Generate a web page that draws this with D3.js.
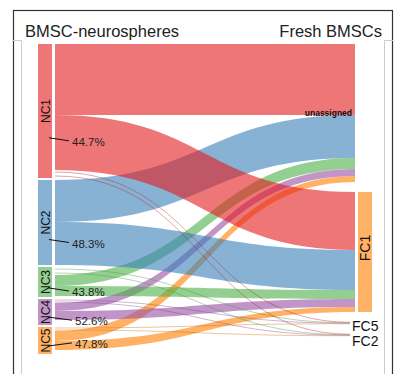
<!DOCTYPE html>
<html>
<head>
<meta charset="utf-8">
<script src="https://cdn.jsdelivr.net/npm/d3@7"></script>
<style>
  body { margin: 0; background: #fff; }
  text { font-family: "Liberation Sans", Arial, Helvetica, sans-serif; }
</style>
</head>
<body>
<script>
// nodes of the two clusterings
const leftNodes = ["NC1", "NC2", "NC3", "NC4", "NC5"];
const leftSize = [134, 85, 30, 26, 27];
const rightNodes = ["unassigned", "FC1", "FC5", "FC2"];
const pctLabels = ["44.7%", "48.3%", "43.8%", "52.6%", "47.8%"];

// links, listed in the order they stack at the source
const linkSource = ["NC1", "NC1", "NC1", "NC1",
                    "NC2", "NC2",
                    "NC3", "NC3", "NC3", "NC3",
                    "NC4", "NC4", "NC4", "NC4",
                    "NC5", "NC5", "NC5", "NC5"];
const linkTarget = ["unassigned", "FC1", "FC5", "FC2",
                    "unassigned", "FC1",
                    "FC5", "FC2", "unassigned", "FC1",
                    "FC5", "FC2", "unassigned", "FC1",
                    "FC5", "FC2", "unassigned", "FC1"];
// width at the source side and at the target side
const linkSrcW = [71, 55, 4, 4,  42, 43,  4, 4, 11, 10,  2, 2, 8, 9,  2, 2, 10, 9];
const linkTgtW = [71, 58, 0.5, 0.5,  43, 40,  0.5, 0.5, 11, 9,  0.5, 0.5, 7, 8,  0.5, 0.5, 6, 5];

const W = 397, H = 374;
const topY = 44, leftGap = 2, rightGap = 10;
const x0 = 55, x1 = 355;

const svg = d3.select("body").append("svg")
    .attr("width", W)
    .attr("height", H);

// frame
svg.append("rect")
    .attr("x", 13.5).attr("y", 10.5)
    .attr("width", 379).attr("height", 400)
    .attr("fill", "none").attr("stroke", "#333").attr("stroke-width", 1.2);
svg.append("path")
    .attr("d", "M13,40.5H21.5V374M393,40.5H384.5V374")
    .attr("fill", "none").attr("stroke", "#ccc");

// titles
svg.append("text").attr("x", 25).attr("y", 37)
    .attr("font-size", 16.5).attr("fill", "#222")
    .text("BMSC-neurospheres");
svg.append("text").attr("x", 382).attr("y", 37)
    .attr("text-anchor", "end")
    .attr("font-size", 16.5).attr("fill", "#222")
    .text("Fresh BMSCs");

const color = d3.scaleOrdinal()
    .domain(leftNodes)
    .range(d3.schemeSet1);
const rightColor = { "FC1": d3.schemeSet1[4] };

const h = d3.scaleLinear()
    .domain([0, d3.sum(leftSize)])
    .range([0, 302]);

// left node positions
const leftY = {};
let acc = topY;
leftNodes.forEach((n, i) => {
    leftY[n] = { y0: acc, y1: acc + h(leftSize[i]), size: leftSize[i] };
    acc += h(leftSize[i]) + leftGap;
});

const links = linkSource.map((s, i) => ({
    s: s, t: linkTarget[i], sw: linkSrcW[i], tw: linkTgtW[i], i: i
}));

// right node sizes and positions
const rightY = {};
acc = topY;
rightNodes.forEach(n => {
    const size = d3.sum(links.filter(l => l.t == n), l => l.tw);
    rightY[n] = { y0: acc, y1: acc + h(size) };
    acc += h(size) + rightGap;
});

// stack at source
const srcOff = {};
links.forEach(l => {
    const o = srcOff[l.s] || 0;
    l.y0 = leftY[l.s].y0 + o;
    l.y0b = l.y0 + h(l.sw);
    srcOff[l.s] = o + h(l.sw);
});
// stack at target, ordered by source
const tgtOff = {};
links.slice()
    .sort((a, b) => leftNodes.indexOf(a.s) - leftNodes.indexOf(b.s) || a.i - b.i)
    .forEach(l => {
        const o = tgtOff[l.t] || 0;
        l.y1 = rightY[l.t].y0 + o;
        l.y1b = l.y1 + h(l.tw);
        tgtOff[l.t] = o + h(l.tw);
    });

function band(l) {
    const xm = (x0 + x1) / 2;
    const p = d3.path();
    p.moveTo(x0, l.y0);
    p.bezierCurveTo(xm, l.y0, xm, l.y1, x1, l.y1);
    p.lineTo(x1, l.y1b);
    p.bezierCurveTo(xm, l.y1b, xm, l.y0b, x0, l.y0b);
    p.closePath();
    return p.toString();
}

const thick = links.filter(l => l.tw >= 1);
const thin = links.filter(l => l.tw < 1);

// links to unassigned first, then to FC1
svg.append("g")
    .selectAll("path")
    .data(thick.sort((a, b) => rightNodes.indexOf(a.t) - rightNodes.indexOf(b.t) || a.i - b.i))
    .join("path")
    .attr("d", band)
    .attr("fill", d => color(d.s))
    .attr("fill-opacity", 0.6);

const line = d3.linkHorizontal().x(d => d[0]).y(d => d[1]);
svg.append("g")
    .selectAll("path")
    .data(thin)
    .join("path")
    .attr("d", d => line({ source: [x0, (d.y0 + d.y0b) / 2], target: [350, (d.y1 + d.y1b) / 2] }))
    .attr("fill", "none")
    .attr("stroke", d => d3.color(color(d.s)).darker(0.6))
    .attr("stroke-opacity", 0.55)
    .attr("stroke-width", 0.7);

// left node bars
const left = svg.append("g")
    .selectAll("g")
    .data(leftNodes)
    .join("g");
left.append("rect")
    .attr("x", 38).attr("width", 14)
    .attr("y", d => leftY[d].y0)
    .attr("height", d => leftY[d].y1 - leftY[d].y0)
    .attr("fill", d => color(d))
    .attr("fill-opacity", 0.6);
left.append("text")
    .attr("transform", d => `translate(49.5,${(leftY[d].y0 + leftY[d].y1) / 2}) rotate(-90)`)
    .attr("text-anchor", "middle")
    .attr("font-size", 12).attr("fill", "#111")
    .text(d => d);

// percentage labels with leader lines
let lastY = -Infinity;
leftNodes.forEach((n, i) => {
    const nd = leftY[n];
    const ay = (nd.y0 + nd.y1) / 2 + 0.2 * (nd.y1 - nd.y0);
    let ly = Math.max(ay + 4, lastY + 14);
    if (i == 4) ly = ay - 2;
    lastY = ly;
    const tx = i < 3 ? 72 : 75;
    svg.append("line")
        .attr("x1", 49).attr("y1", ay)
        .attr("x2", tx - 3).attr("y2", ly - 1)
        .attr("stroke", "#111").attr("stroke-width", 1);
    svg.append("text")
        .attr("x", tx).attr("y", ly + 4)
        .attr("font-size", 11.5).attr("fill", "#222")
        .text(pctLabels[i]);
});

// right nodes
const fc1 = rightY["FC1"];
svg.append("rect")
    .attr("x", 358).attr("width", 14)
    .attr("y", fc1.y0).attr("height", fc1.y1 - fc1.y0)
    .attr("fill", rightColor["FC1"]).attr("fill-opacity", 0.6);
svg.append("text")
    .attr("transform", `translate(370,${(fc1.y0 + fc1.y1) / 2 - 4}) rotate(-90)`)
    .attr("text-anchor", "middle")
    .attr("font-size", 14).attr("fill", "#111")
    .text("FC1");

const un = rightY["unassigned"];
svg.append("text")
    .attr("x", 352).attr("y", (un.y0 + un.y1) / 2 + 3)
    .attr("text-anchor", "end")
    .attr("font-size", 8.5).attr("font-weight", "bold").attr("fill", "#111")
    .text("unassigned");

let lastR = -Infinity;
["FC5", "FC2"].forEach(n => {
    const c = (rightY[n].y0 + rightY[n].y1) / 2;
    const ly = Math.max(c + 3, lastR + 15);
    lastR = ly;
    svg.append("text")
        .attr("x", 352).attr("y", ly + 5)
        .attr("font-size", 14).attr("fill", "#111")
        .text(n);
});
</script>
</body>
</html>
